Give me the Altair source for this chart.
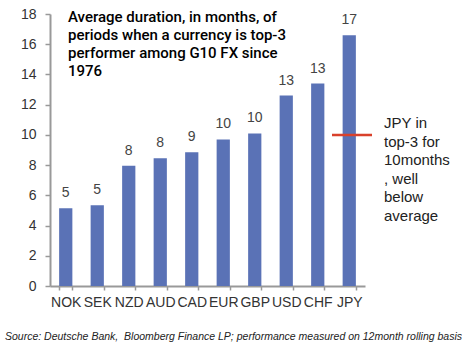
import altair as alt
import pandas as pd

categories = ["NOK", "SEK", "NZD", "AUD", "CAD", "EUR", "GBP", "USD", "CHF", "JPY"]
values = [5.15, 5.35, 7.95, 8.45, 8.85, 9.7, 10.1, 12.6, 13.4, 16.6]
labels = ["5", "5", "8", "8", "9", "10", "10", "13", "13", "17"]
y_ticks = [0, 2, 4, 6, 8, 10, 12, 14, 16, 18]
jpy_level = [10]
title_lines = ["Average duration, in months, of", "periods when a currency is top-3",
               "performer among G10 FX since", "1976"]
note_lines = ["JPY in", "top-3 for", "10months", ", well", "below", "average"]
source_text = "Source: Deutsche Bank,\u00a0 Bloomberg Finance LP; performance measured on 12month rolling basis"

FONT = "Liberation Sans"
df = pd.DataFrame({"cur": categories, "val": values, "lab": labels})

x = alt.X("cur:N", sort=categories, title=None,
          scale=alt.Scale(paddingInner=0.58, paddingOuter=0.29),
          axis=alt.Axis(labelAngle=0, tickBand="extent", tickSize=4, tickColor="#999999",
                        domainColor="#999999", domainWidth=2, tickWidth=1.5,
                        labelFont=FONT, labelFontSize=14, labelColor="#333333", labelPadding=5))
y = alt.Y("val:Q", title=None,
          scale=alt.Scale(domain=[0, 18], nice=False),
          axis=alt.Axis(values=y_ticks, tickCount=10, grid=False, tickSize=5, tickColor="#999999",
                        domainColor="#999999", domainWidth=2, tickWidth=1.5, labelOverlap=False,
                        labelFont=FONT, labelFontSize=14, labelColor="#333333", labelPadding=9))

bars = alt.Chart(df).mark_bar(color="#5a72b6").encode(x=x, y=y)
bar_text = alt.Chart(df).mark_text(font=FONT, fontSize=14, color="#444444", baseline="alphabetic", dy=-11).encode(
    x=alt.X("cur:N", sort=categories), y="val:Q", text="lab:N")

rule = alt.Chart(pd.DataFrame({"v": jpy_level})).mark_rule(color="#d9412b", strokeWidth=2.5).encode(
    y="v:Q", x=alt.value(282), x2=alt.value(322))

note = alt.Chart(pd.DataFrame({"t": [note_lines]})).mark_text(
    font=FONT, fontSize=15, color="#222222", align="left", baseline="alphabetic", lineHeight=18.5).encode(
    x=alt.value(334), y=alt.value(114), text="t")

title = alt.Chart(pd.DataFrame({"t": [title_lines]})).mark_text(
    font="Roboto", fontSize=15, color="#000000", align="left", baseline="alphabetic", lineHeight=18,
    fontWeight=500).encode(x=alt.value(18), y=alt.value(8), text="t")

source = alt.Chart(pd.DataFrame({"t": [source_text]})).mark_text(
    font=FONT, fontSize=10.5, fontStyle="italic", color="#222222", align="left", baseline="alphabetic").encode(
    x=alt.value(-45), y=alt.value(326), text="t")

chart = alt.layer(bars, bar_text, rule, note, title, source).properties(
    width=315, height=272,
    autosize=alt.AutoSizeParams(type="none"),
    padding={"left": 50, "top": 14, "right": 97, "bottom": 63},
    background="white",
).configure_view(stroke=None)

chart.save("out.html", embed_options={"renderer": "svg", "actions": False})
